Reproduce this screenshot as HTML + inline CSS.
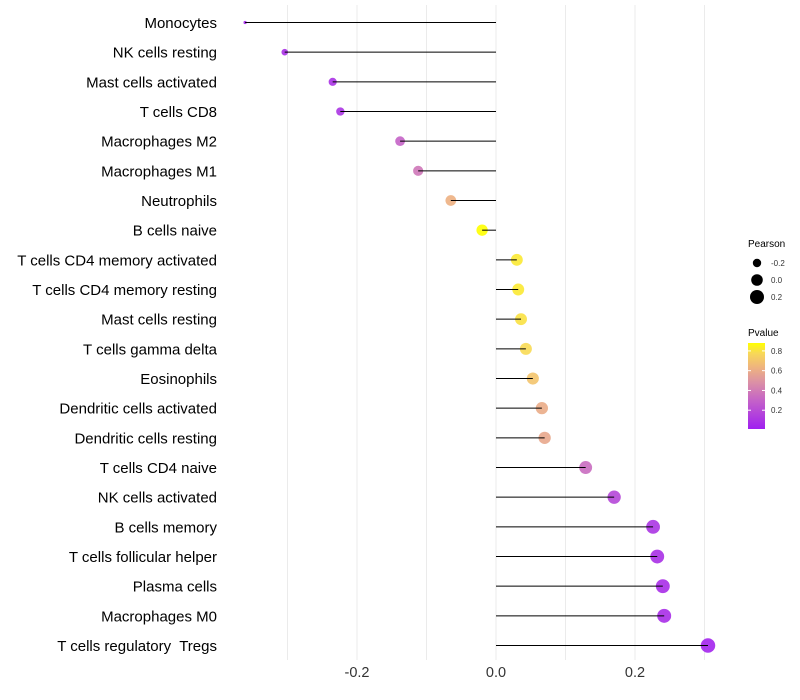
<!DOCTYPE html>
<html><head><meta charset="utf-8">
<style>
body{margin:0;background:#fff;}
svg{display:block;font-family:"Liberation Sans",sans-serif;}
</style></head>
<body>
<svg id="chart" width="800" height="700">
<defs>
<linearGradient id="pgrad" x1="0" y1="1" x2="0" y2="0">
<stop offset="0" stop-color="#A020F0"/>
<stop offset="0.33" stop-color="#C462C8"/>
<stop offset="0.55" stop-color="#DC92A4"/>
<stop offset="0.72" stop-color="#EFB47E"/>
<stop offset="0.88" stop-color="#F8D858"/>
<stop offset="1" stop-color="#FFFF00"/>
</linearGradient>
</defs>
<g id="grid"></g>
<g id="dots"></g>
<g id="stems"></g>
<g id="ylab"></g>
<g id="xlab"></g>
<g>
<text x="748" y="247" font-size="10" fill="#000">Pearson</text>
<circle cx="757" cy="263" r="4.2" fill="#000"/>
<text x="771" y="266" font-size="8" fill="#333">-0.2</text>
<circle cx="757" cy="280" r="5.8" fill="#000"/>
<text x="771" y="283" font-size="8" fill="#333">0.0</text>
<circle cx="757" cy="297" r="7" fill="#000"/>
<text x="771" y="300" font-size="8" fill="#333">0.2</text>
<text x="748" y="336" font-size="10" fill="#000">Pvalue</text>
<rect x="748" y="343" width="17" height="86" fill="url(#pgrad)"/>
<g id="cbticks"></g>
</g>
</svg>
<script>
const cells = ["Monocytes","NK cells resting","Mast cells activated","T cells CD8","Macrophages M2","Macrophages M1","Neutrophils","B cells naive","T cells CD4 memory activated","T cells CD4 memory resting","Mast cells resting","T cells gamma delta","Eosinophils","Dendritic cells activated","Dendritic cells resting","T cells CD4 naive","NK cells activated","B cells memory","T cells follicular helper","Plasma cells","Macrophages M0","T cells regulatory  Tregs"];
const pearson = [-0.361,-0.304,-0.235,-0.224,-0.138,-0.112,-0.065,-0.020,0.030,0.032,0.036,0.043,0.053,0.066,0.070,0.129,0.170,0.226,0.232,0.240,0.242,0.305];
const pvalue = [0.05,0.08,0.09,0.1,0.3,0.38,0.62,0.88,0.82,0.82,0.8,0.78,0.7,0.6,0.58,0.34,0.18,0.1,0.08,0.07,0.07,0.03];
const xTicks = [-0.2,0.0,0.2];
const xTickLabels = ["-0.2","0.0","0.2"];
const gridVals = [-0.3,-0.2,-0.1,0,0.1,0.2,0.3];
const cbTicks = [0.2,0.4,0.6,0.8];

const NS="http://www.w3.org/2000/svg";
const X = v => 496 + v*695;
const Y = i => 22.5 + i*29.667;
const pMin=0.01, pMax=0.88;
const CB = p => 429 - (p-pMin)/(pMax-pMin)*86;
const stops=[[0,[160,32,240]],[0.33,[196,98,200]],[0.55,[220,146,164]],[0.72,[239,180,126]],[0.88,[248,216,88]],[1,[255,255,0]]];
function color(p){let t=Math.max(0,Math.min(1,(p-pMin)/(pMax-pMin)));
 for(let k=1;k<stops.length;k++){if(t<=stops[k][0]){const a=stops[k-1],b=stops[k],u=(t-a[0])/(b[0]-a[0]);
  const c=a[1].map((x,j)=>Math.round(x+(b[1][j]-x)*u));return `rgb(${c})`;}}return "rgb(255,255,0)";}
const pmin=Math.min(...pearson), pmax=Math.max(...pearson);
const rad = v => { const t=(v-pmin)/(pmax-pmin); return (1+2.25*(1+5*Math.sqrt(t)))/2; };
function mk(tag,attrs,parent){const e=document.createElementNS(NS,tag);for(const k in attrs)e.setAttribute(k,attrs[k]);document.getElementById(parent).appendChild(e);return e;}

gridVals.forEach(v=>{const l=mk('line',{x1:X(v),x2:X(v),y1:5,y2:660,stroke:'#ebebeb','stroke-width':1},'grid');
 
 });
cells.forEach((c,i)=>{
 const d=mk('circle',{cx:X(pearson[i]),cy:Y(i),r:rad(pearson[i]),fill:color(pvalue[i]),'fill-opacity':0.9},'dots');
 
 
 const s=mk('line',{x1:X(0),x2:X(pearson[i]),y1:Y(i),y2:Y(i),stroke:'#000','stroke-width':1},'stems');
 
 
 const t=mk('text',{x:217,y:Y(i)+5.5,'text-anchor':'end','font-size':15,fill:'#000'},'ylab');
 t.style.whiteSpace='pre';
 t.textContent=c;
 
 
});
xTicks.forEach((v,i)=>{const t=mk('text',{x:X(v),y:677,'text-anchor':'middle','font-size':14.5,fill:'#333'},'xlab');
 t.textContent=xTickLabels[i];
 
 });
cbTicks.forEach(p=>{const y=CB(p);
 const l=mk('line',{x1:748,x2:751,y1:y,y2:y,stroke:'#fff','stroke-width':1},'cbticks');
 
 
 const l2=mk('line',{x1:762,x2:765,y1:y,y2:y,stroke:'#fff','stroke-width':1},'cbticks');
 
 
 const t=mk('text',{x:771,y:y+3,'font-size':8,fill:'#333'},'cbticks');
 t.textContent=p.toFixed(1);
 
 });
</script>
</body></html>
